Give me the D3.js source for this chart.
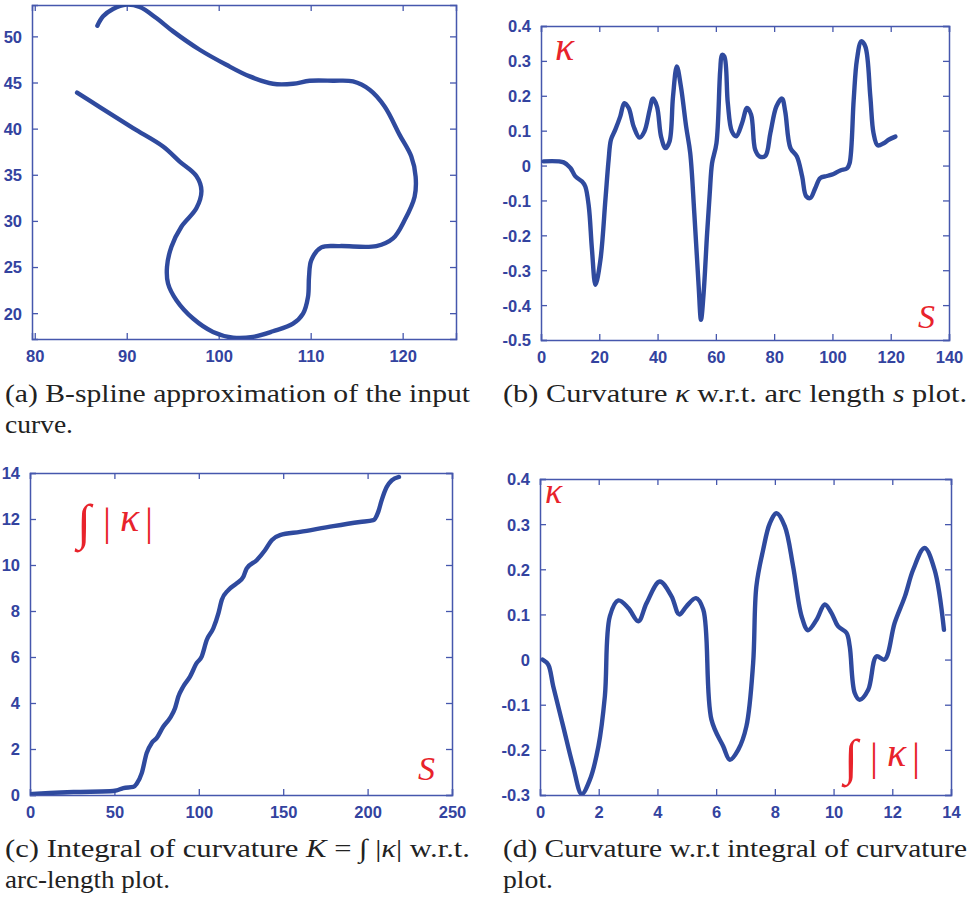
<!DOCTYPE html>
<html><head><meta charset="utf-8">
<script src="https://cdn.jsdelivr.net/npm/d3@7"></script>
<style>
html,body{margin:0;padding:0;background:#fff;}
svg{display:block;}
.tick text{font-family:"Liberation Sans",Arial,sans-serif;font-weight:bold;font-size:16.5px;fill:#33439f;}
.cap{font-family:"Liberation Serif","Times New Roman",serif;font-size:26px;fill:#222;}
.red{font-family:"Liberation Serif","DejaVu Serif",serif;fill:#e8232b;}
</style>
</head><body>
<script>
// ---------- DATA ----------
// (a) B-spline approximation of the input curve (x, y)
const curveX = [84.6,87.07,90.69,93.95,95.76,97.57,98.12,97.57,95.94,94.86,94.38,94.49,95.4,97.21,99.38,101.56,103.73,105.9,108.08,109.17,109.71,109.82,110.07,111.16,113.15,117.14,118.95,120.22,121.3,121.41,120.94,119.67,118.04,116.41,114.6,112.43,109.89,108.08,105.9,103.37,100.83,97.93,95.04,93.22,91.41,89.96,88.51,87.43,86.81];
const curveY = [43.9,42.33,40.05,38.06,36.43,34.87,33.28,31.36,29.37,27.2,25.03,23.22,21.41,19.42,17.97,17.35,17.43,18.04,18.87,19.96,21.77,23.94,25.75,27.13,27.27,27.27,28.1,30.09,32.63,34.8,36.97,39.32,42.4,44.21,45.11,45.19,45.19,44.86,44.86,45.66,46.92,48.55,50.54,51.99,53.18,53.44,52.97,52.17,51.16];

// (b) curvature kappa vs arc length s
const arcS = [0.9,7.8,10.1,11.8,14.1,15.2,16.4,17.5,18.7,20.4,22.1,23.2,24,25.5,27.2,28.6,30.1,31.8,33.8,35.5,37.3,38.4,39.8,41.2,42.7,44.1,45.3,46.6,48.0,49.8,51.2,52.6,54.1,54.9,55.8,57.0,57.9,58.7,60.2,61.5,62.1,62.9,64.1,65.5,67.0,69.0,70.7,72.1,73.5,75.0,77.0,78.7,80.8,82.7,83.8,85.6,87.8,89.6,91.0,92.4,94.1,95.8,98.1,100.4,102.7,105.0,105.9,107.3,108.4,109.9,111.3,113.0,114.1,115.5,117.6,119.3,121.6];
const kappaS = [0.012,0.009,-0.007,-0.031,-0.046,-0.06,-0.117,-0.242,-0.342,-0.27,-0.098,0.016,0.074,0.103,0.141,0.179,0.165,0.112,0.08,0.098,0.16,0.192,0.169,0.083,0.05,0.069,0.198,0.284,0.227,0.112,0.036,-0.136,-0.346,-0.442,-0.366,-0.194,-0.08,0.007,0.064,0.274,0.317,0.313,0.179,0.098,0.084,0.122,0.165,0.146,0.045,0.026,0.028,0.093,0.17,0.192,0.155,0.05,0.026,-0.031,-0.088,-0.093,-0.065,-0.036,-0.03,-0.024,-0.014,-0.008,0.007,0.189,0.303,0.356,0.341,0.198,0.093,0.058,0.064,0.074,0.083];

// (c) integral of |kappa| vs arc length
const arcC = [0,11.8,25.7,47.4,51.3,55.3,61.2,63.2,66.2,69.1,72.1,75.0,79.0,82.9,85.9,87.9,90.8,94.8,98.7,101.7,104.7,108.6,111.6,113.6,117.5,122.4,126.4,128.4,134.3,139.2,143.2,148.1,160,179.7,195.5,203.4,206.3,208.3,211.3,214.3,218.6];
const intK = [0.04,0.09,0.13,0.16,0.2,0.3,0.35,0.49,0.95,1.82,2.26,2.47,2.98,3.34,3.77,4.28,4.72,5.15,5.73,6.02,6.74,7.25,7.9,8.48,8.91,9.2,9.49,9.85,10.21,10.64,11.08,11.3,11.44,11.69,11.87,11.95,12.31,12.81,13.39,13.68,13.83];

// (d) curvature vs integral of curvature
const intD = [0.09,0.28,0.45,0.79,1.13,1.42,1.70,1.99,2.21,2.38,2.67,3.01,3.35,3.63,4.08,4.48,4.74,4.99,5.31,5.56,5.84,6.24,6.47,6.75,7.03,7.26,7.37,7.6,7.83,8.06,8.34,8.62,8.91,9.13,9.42,9.7,9.93,10.15,10.44,10.55,10.72,10.89,11.18,11.46,11.74,12.08,12.43,12.71,13.1,13.44,13.76];
const kappaD = [0,-0.011,-0.059,-0.148,-0.237,-0.298,-0.266,-0.192,-0.081,0.096,0.131,0.114,0.085,0.125,0.173,0.14,0.1,0.118,0.136,0.111,-0.133,-0.192,-0.222,-0.2,-0.148,-0.008,0.162,0.243,0.302,0.324,0.295,0.207,0.096,0.065,0.088,0.122,0.103,0.074,0.059,0.029,-0.074,-0.089,-0.067,0.007,0,0.081,0.14,0.199,0.247,0.199,0.066];

// tick values
const ticksAX = [80,90,100,110,120];
const ticksAY = [20,25,30,35,40,45,50];
const ticksBX = [0,20,40,60,80,100,120,140];
const ticksBY = [-0.5,-0.4,-0.3,-0.2,-0.1,0,0.1,0.2,0.3,0.4];
const ticksCX = [0,50,100,150,200,250];
const ticksCY = [0,2,4,6,8,10,12,14];
const ticksDX = [0,2,4,6,8,10,12,14];
const ticksDY = [-0.3,-0.2,-0.1,0,0.1,0.2,0.3,0.4];

// ---------- DRAW ----------
const W = 969, H = 900;
const svg = d3.select("body").append("svg").attr("width", W).attr("height", H);
const AXIS = "#4657ad", LINE = "#2f4a9e";
const fmt = d => (Math.round(d*10)/10).toString();

function panel(box, xdom, ydom, xt, yt, xs, ys, curve, id) {
  const x = d3.scaleLinear().domain(xdom).range([box.l, box.r]);
  const y = d3.scaleLinear().domain(ydom).range([box.b, box.t]);
  const g = svg.append("g");
  g.append("clipPath").attr("id", id).append("rect")
    .attr("x", box.l).attr("y", box.t).attr("width", box.r-box.l).attr("height", box.b-box.t);
  const tl = 6;
  const ax = g.append("g").attr("transform", `translate(0,${box.b})`)
    .call(d3.axisBottom(x).tickValues(xt).tickSize(-tl).tickPadding(tl+5).tickFormat(fmt));
  const ay = g.append("g").attr("transform", `translate(${box.l},0)`)
    .call(d3.axisLeft(y).tickValues(yt).tickSize(-tl).tickPadding(tl+4).tickFormat(fmt));
  const at = g.append("g").attr("transform", `translate(0,${box.t})`)
    .call(d3.axisTop(x).tickValues(xt).tickSize(-tl).tickFormat(""));
  const ar = g.append("g").attr("transform", `translate(${box.r},0)`)
    .call(d3.axisRight(y).tickValues(yt).tickSize(-tl).tickFormat(""));
  [ax, ay, at, ar].forEach(a => {
    a.selectAll(".domain").attr("stroke", AXIS).attr("stroke-width", 1.5);
    a.selectAll(".tick line").attr("stroke", AXIS).attr("stroke-width", 1.3);
  });
  ay.selectAll(".tick text").attr("dy", "0.36em");
  const pts = xs.map((v, i) => [v, ys[i]]);
  g.append("path").datum(pts)
    .attr("clip-path", `url(#${id})`)
    .attr("fill", "none").attr("stroke", LINE).attr("stroke-width", 4.4)
    .attr("stroke-linejoin", "round").attr("stroke-linecap", "round")
    .attr("d", d3.line().x(d => x(d[0])).y(d => y(d[1])).curve(curve));
  return {x, y, g};
}

panel({l:32,r:456,t:5,b:339}, [79.7,125.8], [17.2,53.4], ticksAX, ticksAY, curveX, curveY, d3.curveCatmullRom.alpha(0.5), "ca");
panel({l:541,r:949,t:26,b:340}, [0,140], [-0.5,0.4], ticksBX, ticksBY, arcS, kappaS, d3.curveCatmullRom.alpha(0.5), "cb");
panel({l:30,r:452,t:473,b:795}, [0,250], [0,14], ticksCX, ticksCY, arcC, intK, d3.curveMonotoneX, "cc");
panel({l:540,r:951,t:479,b:795}, [0,14], [-0.3,0.4], ticksDX, ticksDY, intD, kappaD, d3.curveCatmullRom.alpha(0.5), "cd");

// red in-plot labels
function red(xp, yp, size, txt, italic, anchor) {
  svg.append("text").attr("class", "red").attr("x", xp).attr("y", yp)
    .attr("font-size", size).attr("font-style", italic ? "italic" : "normal")
    .attr("text-anchor", anchor || "start").text(txt);
}
function intLabel(x0, base) {
  // ∫ | κ |
  red(x0 + 2, base + 4, 50, "∫", false);
  red(x0 + 32, base, 40, "|", false, "middle");
  red(x0 + 45, base - 4, 40, "κ", true);
  red(x0 + 74, base, 40, "|", false, "middle");
}
red(555, 60, 40, "κ", true);
red(918, 328, 34, "S", true);
intLabel(75, 535);
red(418, 780, 34, "S", true);
red(545, 503, 36, "κ", true);
intLabel(842, 770);

// captions
function cap(xp, yp, len, parts) {
  const t = svg.append("text").attr("class", "cap").attr("x", xp).attr("y", yp)
    .attr("textLength", len).attr("lengthAdjust", "spacingAndGlyphs");
  parts.forEach(p => t.append("tspan").attr("font-style", p[1] ? "italic" : "normal").text(p[0]));
}
cap(5, 402, 465, [["(a) B-spline approximation of the input", false]]);
cap(5, 433, 68, [["curve.", false]]);
cap(503, 402, 464, [["(b) Curvature ", false], ["κ", true], [" w.r.t. arc length ", false], ["s", true], [" plot.", false]]);
cap(5, 857, 465, [["(c) Integral of curvature ", false], ["K", true], [" = ∫ |", false], ["κ", true], ["| w.r.t.", false]]);
cap(5, 888, 165, [["arc-length plot.", false]]);
cap(503, 857, 464, [["(d) Curvature w.r.t integral of curvature", false]]);
cap(503, 888, 50, [["plot.", false]]);
</script>
</body></html>
